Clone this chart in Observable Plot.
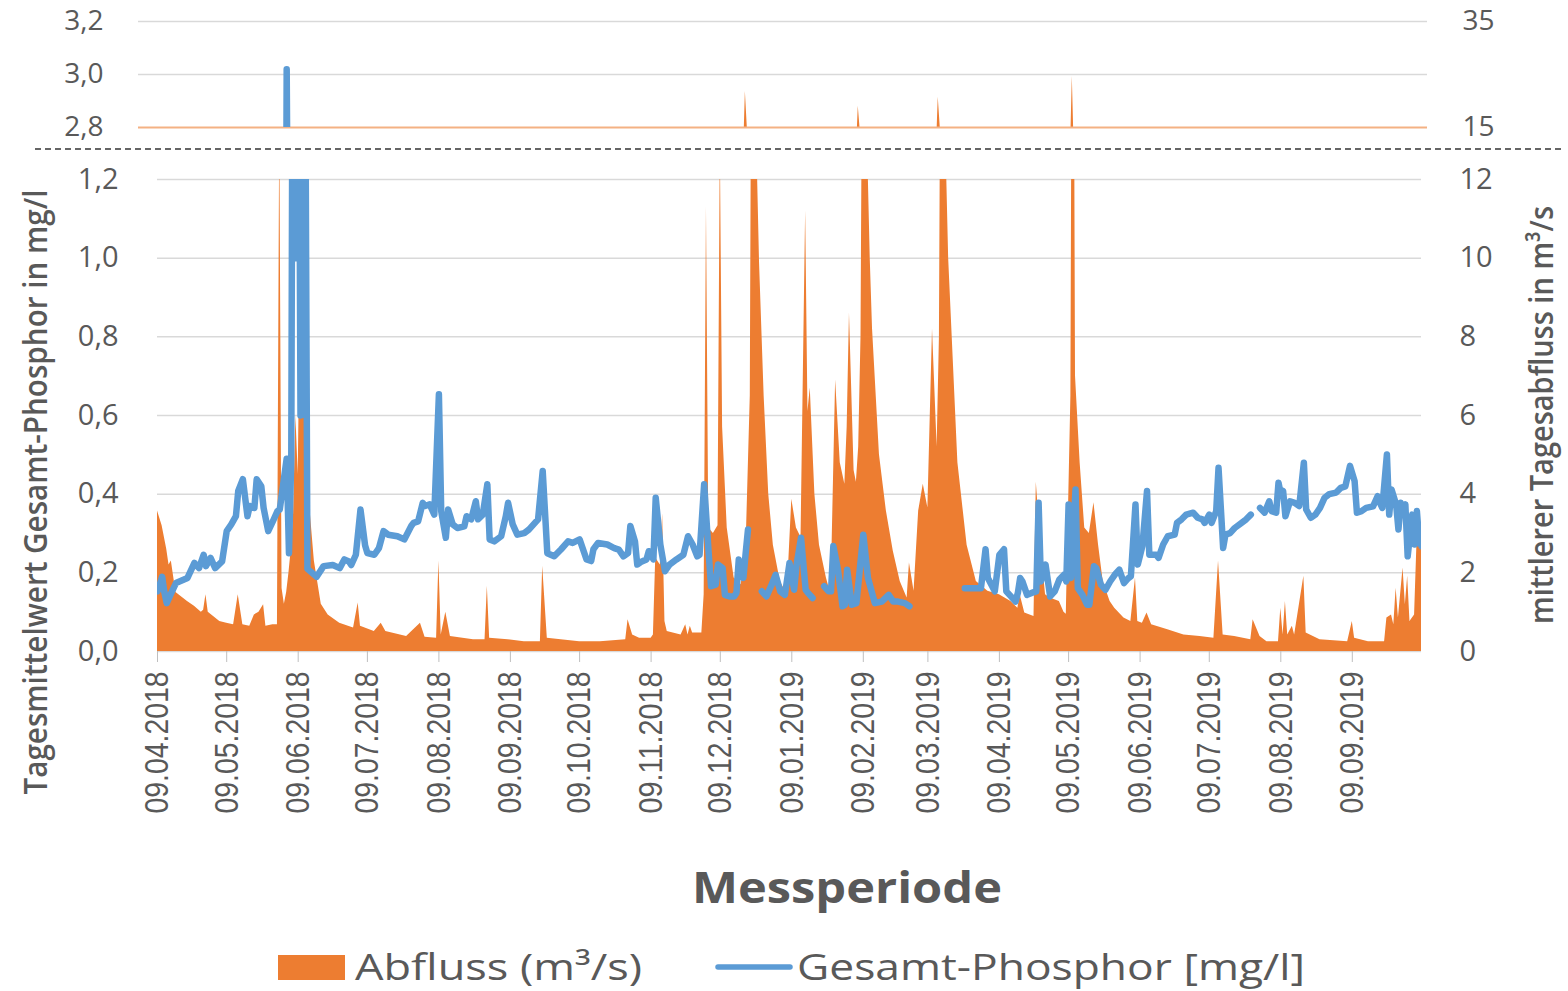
<!DOCTYPE html>
<html><head><meta charset="utf-8">
<script src="https://cdn.jsdelivr.net/npm/d3@7"></script>
<script src="https://cdn.jsdelivr.net/npm/@observablehq/plot@0.6"></script>
<style>
body{margin:0;background:#fff;}
#wrap{position:relative;width:1568px;height:991px;overflow:hidden;font-family:"Open Sans",sans-serif;}
#wrap > svg{position:absolute;left:0;}
</style></head><body><div id="wrap"></div>
<script>
// ---- data (day offsets from 09.04.2018) ----
const startUTC = Date.UTC(2018, 3, 9);
const lastDay = 548;

// Abfluss (m³/s)
const qDay = [0,2,4,5,6,7,8,13,16,19,20,21,22,27,30,33,35,37,40,42,44,46,47,50,52,53,54,55,56,57,58,59,60,61,62,63,64,65,66,68,71,74,79,85,87,88,94,97,99,108,114,116,121,122,123,125,127,137,142,143,144,152,159,166,167,169,175,183,192,203,204,206,209,214,215,216,218,219,220,221,227,229,230,231,232,236,237,238,239,241,243,244,245,247,250,253,255,257,258,259,260,261,263,265,267,270,273,275,277,279,281,282,283,285,287,290,292,294,296,298,299,300,302,303,304,305,306,307,308,309,310,313,316,319,322,325,326,328,330,332,334,336,338,339,340,341,342,343,345,347,351,355,360,365,370,373,374,376,380,381,383,385,387,391,393,394,396,397,398,400,402,404,406,408,410,413,415,419,422,424,425,427,429,431,438,445,452,458,460,462,467,474,475,478,481,486,487,488,489,490,492,493,497,498,504,516,518,519,525,532,533,535,536,537,538,540,541,542,543,545,546,548];
const qVal = [3.57,3.2,2.6,2.2,2.3,1.9,1.5,1.27,1.15,1.0,1.05,1.44,1.0,0.76,0.72,0.68,1.44,0.68,0.64,0.93,1.0,1.19,0.64,0.68,0.68,13.5,1.6,1.2,1.5,2.0,2.6,3.5,6,4.5,9,13.5,14,4.5,3.7,2.3,1.2,0.93,0.72,0.6,1.23,0.64,0.51,0.72,0.51,0.38,0.72,0.36,0.34,2.3,0.42,1.0,0.38,0.3,0.3,1.66,0.34,0.3,0.25,0.25,2.17,0.34,0.3,0.25,0.25,0.3,0.81,0.42,0.34,0.34,0.42,2.38,2.2,3.5,0.76,0.51,0.42,0.68,0.42,0.64,0.47,0.47,1.44,11.3,3.14,3.0,3.2,13.0,5.7,3.14,1.87,1.7,2.3,6.5,21.8,13.5,12.5,9.9,6.5,4.0,2.7,1.78,1.44,3.87,3.14,2.9,11.2,6.1,6.7,4.0,2.7,1.87,1.44,6.9,4.8,4.25,5.7,8.6,4.6,4.3,5.2,8,19,13.5,12.5,10,8.2,5.0,3.57,2.55,1.78,1.36,2.25,1.53,3.57,4.25,3.65,8.2,5.2,8,20.7,14,12.5,10,7.4,4.8,2.7,1.78,1.53,1.44,1.27,1.1,1.44,0.98,0.89,4.3,2.7,1.44,1.36,1.27,1.0,0.95,6.5,24.6,7,4.8,3.14,3.0,3.78,2.7,1.78,1.27,1.1,0.85,0.76,1.87,0.76,0.72,0.98,0.68,0.55,0.42,0.38,0.34,2.3,0.42,0.38,0.3,0.81,0.38,0.25,0.25,1.1,0.42,1.27,0.42,0.64,0.42,1.91,0.47,0.3,0.25,0.76,0.34,0.25,0.25,0.85,0.93,0.68,1.61,0.85,2.12,1.19,1.91,0.76,0.93,2.7,2.76];

// Gesamt-Phosphor (mg/l), NaN = Messlücke
const pDay = [0,2,3,4,6,8,13,14,16,18,20,21,23,25,28,30,32,34,35,37,39,40,42,43,45,46,48,50,52,53,56,57,58,59,60,61,62,63,64,65,68,69,72,76,79,81,83,84,86,88,90,91,94,96,98,100,104,107,110,111,113,115,116,118,120,122,123,125,126,128,130,133,134,136,138,139,141,143,144,146,149,151,152,154,156,159,161,165,167,169,172,175,178,180,183,186,188,189,191,195,198,200,202,204,205,207,208,210,212,213,215,216,218,220,222,225,228,230,232,234,235,237,239,240,242,243,245,246,248,250,251,252,254,255,256,257,262,264,266,268,270,272,274,276,277,279,281,282,284,285,289,291,292,293,295,297,298,299,301,303,306,308,311,314,317,319,321,324,326,327,350,354,357,359,360,363,365,367,368,370,372,373,374,375,377,379,381,382,383,385,387,389,391,393,394,395,396,398,399,401,403,404,406,407,409,411,413,415,417,419,421,422,424,425,427,429,430,433,434,436,438,441,442,444,446,449,451,453,454,456,457,459,460,462,463,465,467,470,472,474,475,478,480,482,483,485,486,487,488,489,491,493,495,497,498,500,502,504,506,508,511,513,515,517,519,520,522,524,527,529,530,531,533,534,535,537,538,539,540,541,542,544,545,546,547,548];
const pVal = [0.153,0.19,0.15,0.123,0.149,0.174,0.187,0.2,0.225,0.212,0.246,0.217,0.238,0.212,0.229,0.306,0.323,0.344,0.408,0.438,0.344,0.37,0.365,0.438,0.42,0.365,0.306,0.331,0.357,0.361,0.49,0.25,0.49,2.5,1.0,2.0,0.6,3.02,1.6,0.21,0.195,0.19,0.217,0.22,0.212,0.234,0.229,0.22,0.246,0.361,0.27,0.25,0.246,0.263,0.306,0.297,0.293,0.285,0.319,0.327,0.331,0.378,0.37,0.374,0.348,0.654,0.357,0.289,0.361,0.323,0.314,0.318,0.344,0.336,0.382,0.336,0.348,0.425,0.285,0.28,0.293,0.344,0.378,0.323,0.297,0.301,0.31,0.336,0.459,0.25,0.242,0.26,0.28,0.276,0.285,0.234,0.23,0.26,0.276,0.272,0.263,0.259,0.242,0.25,0.319,0.28,0.221,0.229,0.234,0.255,0.234,0.391,0.272,0.204,0.221,0.234,0.246,0.293,0.272,0.242,0.246,0.425,0.246,0.166,0.17,0.221,0.212,0.144,0.14,0.14,0.149,0.234,0.187,0.25,0.31,NaN,0.153,0.14,0.166,0.195,0.153,0.144,0.225,0.157,0.217,0.289,0.157,0.149,0.136,NaN,0.166,0.153,0.153,0.268,0.208,0.115,0.119,0.208,0.119,0.123,0.297,0.187,0.123,0.127,0.144,0.127,0.127,0.123,0.115,NaN,0.161,0.161,0.161,0.26,0.187,0.153,0.246,0.26,0.153,0.14,0.127,0.149,0.187,0.178,0.144,0.149,0.153,0.378,0.178,0.221,0.14,0.153,0.183,0.195,0.178,0.374,0.187,0.412,0.161,0.144,0.119,0.119,0.217,0.212,0.17,0.157,0.178,0.195,0.208,0.174,0.187,0.191,0.374,0.221,0.268,0.408,0.246,0.246,0.238,0.272,0.293,0.297,0.327,0.336,0.348,0.353,0.34,0.336,0.327,0.348,0.327,0.357,0.467,0.263,0.297,0.301,0.314,0.327,0.336,0.348,NaN,0.365,0.353,0.382,0.357,0.353,0.429,0.4,0.408,0.344,0.382,0.378,0.37,0.48,0.361,0.34,0.348,0.365,0.391,0.4,0.404,0.416,0.42,0.472,0.433,0.353,0.357,0.365,0.369,0.395,0.378,0.365,0.501,0.348,0.412,0.374,0.31,0.378,0.348,0.374,0.242,0.348,0.272,0.357,0.28,0.268];

const tickLabels = ["09.04.2018","09.05.2018","09.06.2018","09.07.2018","09.08.2018","09.09.2018","09.10.2018","09.11.2018","09.12.2018","09.01.2019","09.02.2019","09.03.2019","09.04.2019","09.05.2019","09.06.2019","09.07.2019","09.08.2019","09.09.2019"];
const leftTicksLow = [0, 0.2, 0.4, 0.6, 0.8, 1.0, 1.2];
const leftTicksHigh = [2.8, 3.0, 3.2];
const rightTicksHigh = [15, 35];

// ---- build tables ----
const toDate = d => new Date(startUTC + d * 864e5);
const parseDMY = s => { const [d, m, y] = s.split(".").map(Number); return new Date(Date.UTC(y, m - 1, d)); };
const qData = qDay.map((d, i) => ({date: toDate(d), q: qVal[i]}));
const pData = pDay.map((d, i) => ({date: toDate(d), p: pVal[i]}));
const tickDates = tickLabels.map(parseDMY);
const xDomain = [toDate(0), toDate(lastDay)];
const comma1 = v => v.toFixed(1).replace(".", ",");

const ORANGE = "#ED7D31", BLUE = "#5B9BD5", GRID = "#D9D9D9", TXT = "#595959";
const LINE_W = 6.5;
const wrap = document.getElementById("wrap");

// ---- top panel (broken axis, upper part) ----
const hiMap = q => 2.8 + (q - 15) / 50;   // right axis 15..35 -> left 2.8..3.2
const topPlot = Plot.plot({
  width: 1568, height: 150,
  marginLeft: 138, marginRight: 141, marginTop: 21, marginBottom: 23,
  style: {fontFamily: "Open Sans", fontSize: "28px", color: TXT, background: "transparent", overflow: "visible"},
  x: {type: "utc", domain: xDomain, axis: null},
  y: {domain: [2.8, 3.2]},
  marks: [
    Plot.ruleY([3.0, 3.2], {stroke: GRID, strokeWidth: 1.5}),
    Plot.areaY(qData, {x: "date", y1: 2.0, y2: d => hiMap(d.q), fill: ORANGE, clip: true}),
    Plot.ruleY([2.8], {stroke: "#F4B183", strokeWidth: 1.8}),
    Plot.lineY(pData, {x: "date", y: "p", stroke: BLUE, strokeWidth: LINE_W, strokeLinejoin: "round", strokeLinecap: "round", clip: true}),
    Plot.axisY({anchor: "left", ticks: leftTicksHigh, tickFormat: comma1, tickSize: 0, tickPadding: 35, label: null}),
    Plot.axisY({anchor: "right", ticks: rightTicksHigh.map(hiMap), tickFormat: v => String(Math.round(15 + (v - 2.8) * 50)), tickSize: 0, tickPadding: 35, label: null})
  ]
});
topPlot.style.top = "0px";
wrap.appendChild(topPlot);

// ---- bottom panel ----
const bottomPlot = Plot.plot({
  width: 1568, height: 700,
  marginLeft: 157, marginRight: 147, marginTop: 29, marginBottom: 199,
  style: {fontFamily: "Open Sans", fontSize: "29px", color: TXT, background: "transparent", overflow: "visible"},
  x: {type: "utc", domain: xDomain},
  y: {domain: [0, 1.2]},
  marks: [
    Plot.ruleY(leftTicksLow, {stroke: GRID, strokeWidth: 1.5}),
    Plot.areaY(qData, {x: "date", y: d => d.q / 10, fill: ORANGE, clip: true}),
    Plot.lineY(pData, {x: "date", y: "p", stroke: BLUE, strokeWidth: LINE_W, strokeLinejoin: "round", strokeLinecap: "round", clip: true}),
    Plot.axisY({anchor: "left", ticks: leftTicksLow, tickFormat: comma1, tickSize: 0, tickPadding: 39, label: null}),
    Plot.axisY({anchor: "right", ticks: leftTicksLow, tickFormat: v => String(Math.round(v * 10)), tickSize: 0, tickPadding: 38, label: null}),
    Plot.axisX({ticks: tickDates, tickFormat: d3.utcFormat("%d.%m.%Y"), tickRotate: -90, tickSize: 11, tickPadding: 9, stroke: "#BFBFBF", label: null})
  ]
});
bottomPlot.style.top = "150px";
wrap.appendChild(bottomPlot);
bottomPlot.querySelectorAll('g[aria-label="x-axis tick label"] text').forEach(t => {
  t.setAttribute("font-family", "Liberation Sans");
  t.setAttribute("font-size", "34");
  t.setAttribute("textLength", "142");
  t.setAttribute("lengthAdjust", "spacingAndGlyphs");
});

// ---- overlay: break line, axis titles, legend ----
const NS = "http://www.w3.org/2000/svg";
const ov = document.createElementNS(NS, "svg");
ov.setAttribute("width", 1568); ov.setAttribute("height", 991);
ov.style.top = "0px";
ov.style.fontFamily = "'Open Sans', sans-serif";
function el(tag, attrs, text) {
  const e = document.createElementNS(NS, tag);
  for (const k in attrs) e.setAttribute(k, attrs[k]);
  if (text != null) e.textContent = text;
  ov.appendChild(e);
  return e;
}
el("line", {x1: 35, x2: 1562, y1: 149, y2: 149, stroke: "#333", "stroke-width": 1.6, "stroke-dasharray": "6 4"});
el("text", {transform: "translate(47,492) rotate(-90)", "text-anchor": "middle", "font-size": 33, "font-weight": 600, fill: TXT, textLength: 605, lengthAdjust: "spacingAndGlyphs"}, "Tagesmittelwert Gesamt-Phosphor in mg/l");
el("text", {transform: "translate(1553,415) rotate(-90)", "text-anchor": "middle", "font-size": 33, "font-weight": 600, fill: TXT, textLength: 418, lengthAdjust: "spacingAndGlyphs"}, "mittlerer Tagesabfluss in m³/s");
el("text", {x: 847, y: 903, "text-anchor": "middle", "font-size": 43, "font-weight": 700, fill: TXT, textLength: 310, lengthAdjust: "spacingAndGlyphs"}, "Messperiode");
el("rect", {x: 278, y: 955, width: 67, height: 25, fill: ORANGE});
el("text", {x: 355, y: 980, "font-size": 37, fill: TXT, textLength: 287, lengthAdjust: "spacingAndGlyphs"}, "Abfluss (m³/s)");
el("line", {x1: 718, x2: 790, y1: 967, y2: 967, stroke: BLUE, "stroke-width": 5.5, "stroke-linecap": "round"});
el("text", {x: 797, y: 980, "font-size": 37, fill: TXT, textLength: 508, lengthAdjust: "spacingAndGlyphs"}, "Gesamt-Phosphor [mg/l]");
wrap.appendChild(ov);
</script>
</body></html>
